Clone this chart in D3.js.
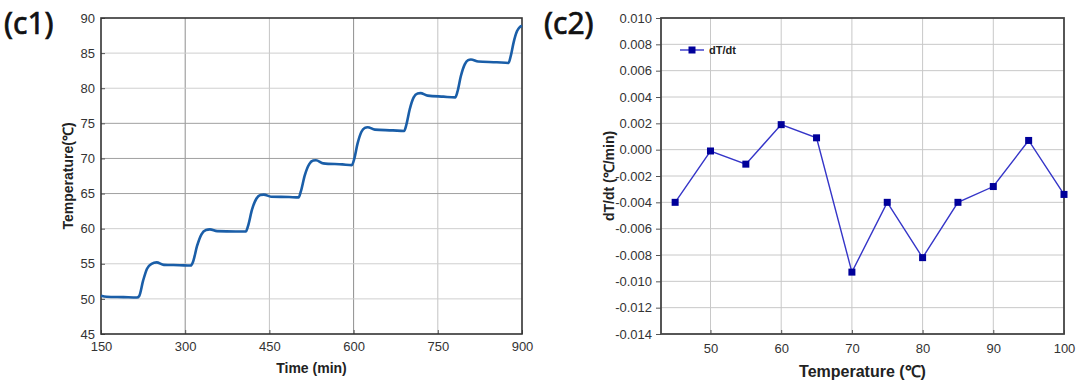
<!DOCTYPE html>
<html>
<head>
<meta charset="utf-8">
<script src="https://cdn.jsdelivr.net/npm/d3@7"></script>
<style>
  body { margin: 0; background: #fff; }
  svg { display: block; }
  .tick text { font-family: "Liberation Sans", Arial, sans-serif; font-size: 13px; fill: #333; }
</style>
</head>
<body>
<div id="chart"></div>
<script>
// (c1) temperature vs time
let timeMin = [150, 160, 190, 214, 218, 225, 232, 240, 249, 262, 290, 310,
               314, 321, 329, 337, 344, 357, 390, 408,
               412, 419, 427, 434, 440, 453, 485, 502,
               506, 513, 521, 528, 533, 546, 580, 597,
               601, 607, 614, 620, 625, 638, 670, 690,
               694, 700, 707, 714, 719, 732, 760, 781,
               785, 791, 798, 804, 809, 822, 855, 876,
               880, 885, 891, 896, 900];
let tempC = [50.45, 50.3, 50.25, 50.2, 50.4, 52.6, 54.3, 55.0, 55.2, 54.85, 54.8, 54.75,
             55.3, 57.5, 59.2, 59.8, 59.9, 59.65, 59.6, 59.6,
             60.4, 62.7, 64.3, 64.8, 64.85, 64.55, 64.5, 64.45,
             65.3, 67.6, 69.2, 69.7, 69.75, 69.3, 69.15, 69.05,
             69.9, 72.1, 73.8, 74.35, 74.45, 74.1, 74.0, 73.9,
             74.8, 77.0, 78.7, 79.25, 79.3, 78.95, 78.8, 78.7,
             79.5, 81.7, 83.4, 84.0, 84.1, 83.8, 83.7, 83.6,
             84.6, 86.5, 88.1, 88.7, 88.9];
let timeTicks = [150, 300, 450, 600, 750, 900];
let tempTicks = [45, 50, 55, 60, 65, 70, 75, 80, 85, 90];

// (c2) dT/dt vs temperature
let rateTemp = [45, 50, 55, 60, 65, 70, 75, 80, 85, 90, 95, 100];
let rateVal = [-0.0040, -0.0001, -0.0011, 0.0019, 0.0009, -0.0093, -0.0040, -0.0082, -0.0040, -0.0028, 0.0007, -0.0034];
let rateXTicks = [50, 60, 70, 80, 90, 100];
let rateYTicks = [-0.014, -0.012, -0.010, -0.008, -0.006, -0.004, -0.002, 0, 0.002, 0.004, 0.006, 0.008, 0.010];

let width = 1080;
let height = 386;

let svg = d3.select("#chart").append("svg")
    .attr("width", width)
    .attr("height", height);

let titleFont = "'Liberation Sans', Arial, sans-serif";
let panelFont = "'Noto Sans', 'Open Sans', sans-serif";

// ---------- left panel ----------
let x1 = d3.scaleLinear().domain([150, 900]).range([101, 522]);
let y1 = d3.scaleLinear().domain([45, 90]).range([334, 18]);

let g1 = svg.append("g");

// grid
g1.selectAll(".vgrid")
    .data(timeTicks.slice(1, -1))
    .enter().append("line")
    .attr("x1", d => x1(d)).attr("x2", d => x1(d))
    .attr("y1", y1(45)).attr("y2", y1(90))
    .attr("stroke", d => (d === 300 || d === 600) ? "#8f8f8f" : "#c4c4c4")
    .attr("stroke-width", 1);

g1.selectAll(".hgrid")
    .data(tempTicks.slice(1, -1))
    .enter().append("line")
    .attr("x1", x1(150)).attr("x2", x1(900))
    .attr("y1", d => y1(d)).attr("y2", d => y1(d))
    .attr("stroke", d => (d === 65 || d === 70 || d === 75) ? "#a0a0a0" : "#cfcfcf")
    .attr("stroke-width", 1);

// axes
let xAxis1 = d3.axisBottom(x1).tickValues(timeTicks).tickSize(-4).tickPadding(8).tickFormat(d3.format("d"));
let yAxis1 = d3.axisLeft(y1).tickValues(tempTicks).tickSize(-4).tickPadding(6).tickFormat(d3.format("d"));

g1.append("g")
    .attr("transform", "translate(0," + y1(45) + ")")
    .call(xAxis1)
    .call(g => g.select(".domain").remove())
    .call(g => g.selectAll(".tick line").attr("stroke", "#555"));

g1.append("g")
    .attr("transform", "translate(" + x1(150) + ",0)")
    .call(yAxis1)
    .call(g => g.select(".domain").remove())
    .call(g => g.selectAll(".tick line").attr("stroke", "#555"));

// frame
g1.append("rect")
    .attr("x", x1(150)).attr("y", y1(90))
    .attr("width", x1(900) - x1(150)).attr("height", y1(45) - y1(90))
    .attr("fill", "none").attr("stroke", "#333").attr("stroke-width", 1.6);

// series
let line1 = d3.line()
    .x((d, i) => x1(timeMin[i]))
    .y((d, i) => y1(tempC[i]))
    .curve(d3.curveMonotoneX);

g1.append("path")
    .datum(tempC)
    .attr("d", line1)
    .attr("fill", "none")
    .attr("stroke", "#1a5ea8")
    .attr("stroke-width", 2.6)
    .attr("stroke-linejoin", "round");

g1.append("text")
    .attr("x", (x1(150) + x1(900)) / 2).attr("y", 373)
    .attr("text-anchor", "middle")
    .style("font-family", titleFont).style("font-size", "14px").style("font-weight", "bold")
    .attr("fill", "#222")
    .text("Time (min)");

g1.append("text")
    .attr("transform", "translate(73," + ((y1(45) + y1(90)) / 2) + ") rotate(-90)")
    .attr("text-anchor", "middle")
    .style("font-family", titleFont).style("font-size", "14px").style("font-weight", "bold")
    .attr("fill", "#222")
    .text("Temperature(℃)");

svg.append("text")
    .attr("x", 4).attr("y", 34)
    .style("font-family", panelFont).style("font-size", "30px")
    .attr("fill", "#111").attr("stroke", "#111").attr("stroke-width", 0.7)
    .text("(c1)");

// ---------- right panel ----------
let x2 = d3.scaleLinear().domain([43, 100]).range([661, 1064]);
let y2 = d3.scaleLinear().domain([-0.014, 0.010]).range([334, 18]);

let g2 = svg.append("g");

g2.selectAll(".vgrid")
    .data(rateXTicks.slice(0, -1))
    .enter().append("line")
    .attr("x1", d => x2(d)).attr("x2", d => x2(d))
    .attr("y1", y2(-0.014)).attr("y2", y2(0.010))
    .attr("stroke", "#c8c8c8").attr("stroke-width", 1);

g2.selectAll(".hgrid")
    .data(rateYTicks.slice(1, -1))
    .enter().append("line")
    .attr("x1", x2(43)).attr("x2", x2(100))
    .attr("y1", d => y2(d)).attr("y2", d => y2(d))
    .attr("stroke", "#c8c8c8").attr("stroke-width", 1);

let fmt3 = d => (Math.abs(d) < 1e-9 ? 0 : d).toFixed(3);

let xAxis2 = d3.axisBottom(x2).tickValues(rateXTicks).tickSize(-4).tickPadding(10).tickFormat(d3.format("d"));
let yAxis2 = d3.axisLeft(y2).tickValues(rateYTicks).tickSize(5).tickPadding(4).tickFormat(fmt3);

g2.append("g")
    .attr("transform", "translate(0," + y2(-0.014) + ")")
    .call(xAxis2)
    .call(g => g.select(".domain").remove())
    .call(g => g.selectAll(".tick line").attr("stroke", "#555"));

g2.append("g")
    .attr("transform", "translate(" + x2(43) + ",0)")
    .call(yAxis2)
    .call(g => g.select(".domain").remove())
    .call(g => g.selectAll(".tick line").attr("stroke", "#555"));

g2.append("rect")
    .attr("x", x2(43)).attr("y", y2(0.010))
    .attr("width", x2(100) - x2(43)).attr("height", y2(-0.014) - y2(0.010))
    .attr("fill", "none").attr("stroke", "#444").attr("stroke-width", 1.8);

let line2 = d3.line()
    .x((d, i) => x2(rateTemp[i]))
    .y(d => y2(d));

g2.append("path")
    .datum(rateVal)
    .attr("d", line2)
    .attr("fill", "none")
    .attr("stroke", "#3535c8")
    .attr("stroke-width", 1.4);

g2.selectAll(".pt")
    .data(rateVal)
    .enter().append("rect")
    .attr("x", (d, i) => x2(rateTemp[i]) - 3.5)
    .attr("y", d => y2(d) - 3.5)
    .attr("width", 7).attr("height", 7)
    .attr("fill", "#00009a");

// legend
let lg = g2.append("g").attr("transform", "translate(680,50)");
lg.append("line").attr("x1", 0).attr("x2", 24).attr("y1", 0).attr("y2", 0)
    .attr("stroke", "#3535c8").attr("stroke-width", 1.4);
lg.append("rect").attr("x", 8.5).attr("y", -3.5).attr("width", 7).attr("height", 7).attr("fill", "#00009a");
lg.append("text").attr("x", 29).attr("y", 4)
    .style("font-family", titleFont).style("font-size", "11px").style("font-weight", "bold")
    .attr("fill", "#222")
    .text("dT/dt");

g2.append("text")
    .attr("x", (x2(43) + x2(100)) / 2).attr("y", 377)
    .attr("text-anchor", "middle")
    .style("font-family", titleFont).style("font-size", "16px").style("font-weight", "bold")
    .attr("fill", "#222")
    .text("Temperature (℃)");

g2.append("text")
    .attr("transform", "translate(614," + ((y2(-0.014) + y2(0.010)) / 2) + ") rotate(-90)")
    .attr("text-anchor", "middle")
    .style("font-family", titleFont).style("font-size", "14px").style("font-weight", "bold")
    .attr("fill", "#222")
    .text("dT/dt (℃/min)");

svg.append("text")
    .attr("x", 544).attr("y", 34)
    .style("font-family", panelFont).style("font-size", "30px")
    .attr("fill", "#111").attr("stroke", "#111").attr("stroke-width", 0.7)
    .text("(c2)");
</script>
</body>
</html>
